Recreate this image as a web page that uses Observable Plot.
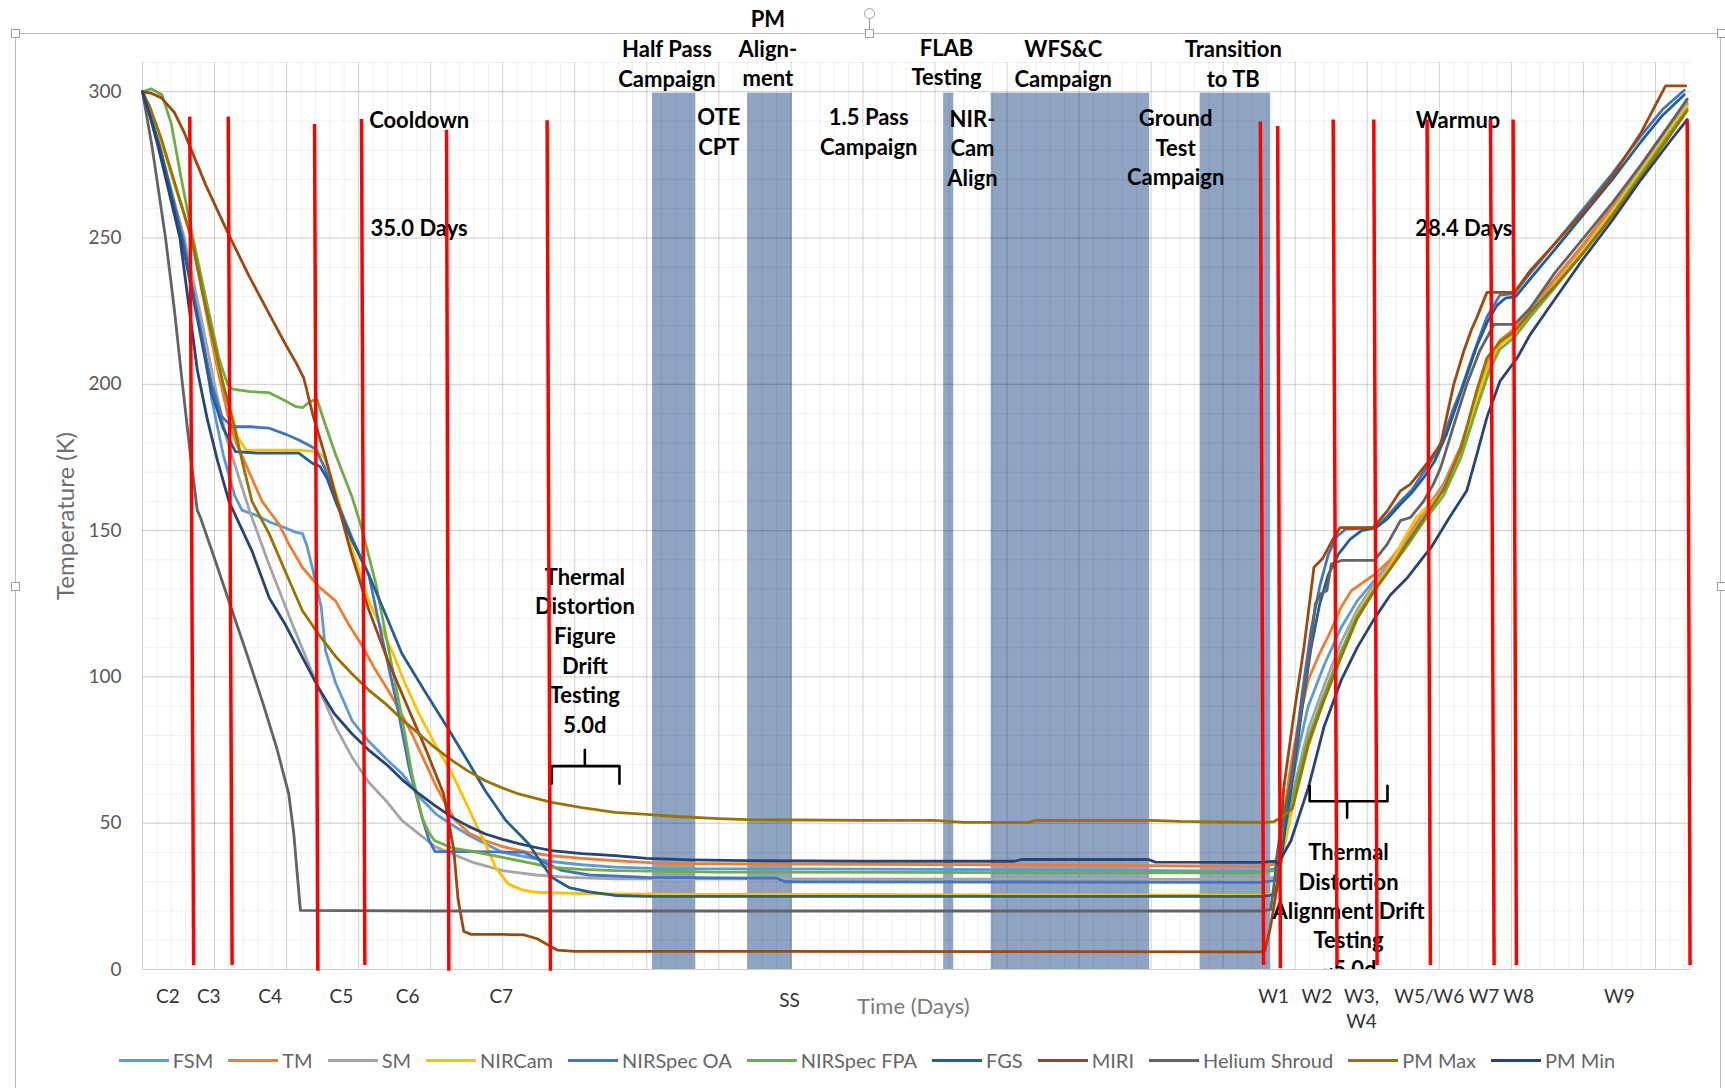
<!DOCTYPE html>
<html>
<head>
<meta charset="utf-8">
<script src="https://cdn.jsdelivr.net/npm/d3@7"></script>
<script src="https://cdn.jsdelivr.net/npm/@observablehq/plot@0.6"></script>
<style>
  html, body { margin: 0; padding: 0; background: #fff; }
  #wrap { position: relative; width: 1725px; height: 1088px; overflow: hidden; font-family: Lato, "Open Sans", sans-serif; }
  #chart { position: absolute; left: 0; top: 0; }
  #frame { position: absolute; left: 15px; top: 33px; width: 1706px; height: 1100px; border: 1px solid #bcbcbc; box-sizing: border-box; }
  .handle { position: absolute; width: 7px; height: 7px; margin: -4px 0 0 -4px; border: 1px solid #a0a0a0; background: #fff; }
  #rot { position: absolute; left: 864px; top: 8px; width: 9px; height: 9px; border: 1px solid #a0a0a0; border-radius: 50%; background: #fff; }
  #rotstem { position: absolute; left: 869px; top: 18px; width: 1px; height: 14px; background: #a0a0a0; }
  #legend { position: absolute; left: 0; top: 1048px; width: 1725px; display: flex; justify-content: center; align-items: center; padding-left: 24px; box-sizing: border-box; font-size: 20px; color: #666; }
  .item { display: flex; align-items: center; margin-right: 15px; white-space: nowrap; }
  .sw { display: inline-block; width: 50px; height: 3px; margin-right: 4px; }
</style>
</head>
<body>
<div id="wrap">
  <div id="chart"></div>
  <div id="frame"></div>
  <div id="rotstem"></div><div id="rot"></div>
  <div class="handle" style="left:15px;top:33px"></div>
  <div class="handle" style="left:869px;top:33px"></div>
  <div class="handle" style="left:1721px;top:33px"></div>
  <div class="handle" style="left:15px;top:586px"></div>
  <div class="handle" style="left:1721px;top:586px"></div>
  <div id="legend"></div>
</div>
<script>
// ---------- Series (day, temperature K) ----------
const seriesNames = ["FSM","TM","SM","NIRCam","NIRSpec OA","NIRSpec FPA","FGS","MIRI","Helium Shroud","PM Max","PM Min"];
const seriesColors = ["#5B9BD5","#ED7D31","#A5A5A5","#FFC000","#4472C4","#70AD47","#255E91","#9E480E","#636363","#997300","#264478"];

const FSM = [[0,300],[0.5,293],[1.2,281],[2.8,250],[4,222],[4.8,195],[5.6,176],[6.4,162],[6.9,157],[8,155],[8.8,153],[9.9,151],[10.6,149.5],[11.1,149],[11.4,145],[11.8,137],[12.4,124],[12.7,109],[13.4,98],[14.55,85],[15.7,78],[16.9,72],[18,67],[19.4,58],[20.4,53],[21.3,50],[22.6,46],[25,40],[28.2,37],[30.5,35.8],[32.8,35],[36,34.5],[50,34.3],[65,34],[77.6,33.5],[78.6,34.5],[79,42],[79.7,62],[80.3,77],[80.9,90],[82,104],[83.2,117],[84.3,126],[85.5,133],[86.6,139],[87.8,148],[88.9,156],[90.3,165],[91.5,178],[92.6,195],[93.5,208],[94.2,214],[95.2,218],[96.3,225],[98,235],[100,247],[102,260],[104,274],[106,288],[107.2,296]];
const TM = [[0,300],[0.5,294],[1.3,283],[3.4,250],[4.2,230],[5,210],[5.9,190],[6.5,180],[7.4,170],[8.3,160],[9.5,152],[10.2,145],[11.1,137.4],[12.2,131],[13.4,126],[14.3,118],[15.2,111],[16.1,103],[17.1,95],[17.9,88],[18.7,80.5],[19.5,72],[20.3,63.4],[21,57],[21.7,51],[22.7,46.5],[23.8,44],[25,42],[26.5,40.3],[28.2,39],[30.5,38],[32.8,37.2],[36,36.3],[45,36],[60,35.8],[70,35.5],[77.6,35.2],[78.6,36],[79,46],[79.7,70],[80.3,86],[80.9,99],[81.6,107],[82.3,114],[83.2,124],[83.9,129.5],[85.5,135],[86.6,140],[87.8,148],[88.9,156],[90.3,166],[91.5,179],[92.6,196],[93.5,209],[94.2,215],[95.2,219],[96.3,226],[98,236],[100,248],[102,261],[104,275],[106,289],[107.2,297]];
const SM = [[0,300],[0.5,293],[1.2,281],[2.9,250],[4.1,222],[5,200],[5.8,182],[6.7,168],[7.5,155.7],[8.77,138.6],[10.4,118],[12.2,96.4],[13.4,83],[14.55,72.5],[15.7,64],[16.9,57.7],[18,51],[19.2,46.3],[20.3,42],[21.5,39.5],[23,36.5],[25,33.8],[27.3,32.3],[29.6,31.5],[32.8,31],[45,31],[77.6,30.8],[78.6,31.5],[79,40],[79.7,58],[80.9,82],[82,97],[83.2,112],[84.3,123],[85.5,132],[86.6,139],[87.8,147],[88.9,155],[90.3,165],[91.5,177.5],[92.6,194],[93.5,207.5],[94.2,213.5],[95.2,217.5],[96.3,224.5],[98,234.5],[100,246.5],[102,259.5],[104,273.5],[106,287.5],[107.2,295.5]];
const NIRCam = [[0,300],[0.5,294],[1.3,283],[3.4,250],[4.3,229],[5.1,210],[5.6,200],[6.2,190],[6.6,182],[7.2,177.5],[9,177.5],[11,177.5],[12.2,177],[12.6,175],[13.1,168],[13.6,160],[14.6,143],[15.7,126],[17.3,109],[18.2,98],[19.2,87.3],[20.3,77],[21.5,66.8],[22.6,55.4],[23.2,49],[23.8,42.9],[24.5,34.9],[25.4,29.2],[26.3,27.3],[27.3,26.4],[30,26],[32.8,25.8],[38,25.7],[77.6,25.4],[78.6,26],[79,36],[79.7,53],[80.9,76],[82,93],[83.2,108],[84.3,121.6],[85.5,130.7],[86.6,138],[87.3,145],[88.4,154.5],[90.3,163.6],[91.5,177.3],[92.6,194.4],[93.5,208],[94.2,213.7],[95.2,217.1],[96.3,224],[98,234],[100,246],[102,259],[104,273],[106,287],[107.2,295]];
const NIRSpecOA = [[0,300],[0.5,293],[1.2,281],[2.8,250],[4,219],[4.8,200],[5.5,189],[6.2,185.5],[7.5,185.5],[8.8,185],[9.9,183],[10.85,181],[12,178],[12.6,172],[13.5,160],[14.5,148],[15.7,135],[16.6,114],[17.6,92],[18.5,69],[19.4,52],[19.9,44],[20.3,40.3],[23,40.3],[26.5,40],[27.5,37.5],[29,34],[31,32.3],[35,31.5],[44,31.2],[44.6,30],[77.6,29.8],[78.7,30.5],[79,40],[79.4,55],[79.9,72],[80.5,95],[81.1,116],[81.7,131],[82.3,142],[82.9,148],[83.5,150.5],[85.6,151],[86.4,155],[87.3,160],[88.1,164],[88.9,170],[89.7,176],[90.3,182],[91,192],[91.5,198],[92.4,211],[93.3,223],[94.2,230.5],[95.2,231],[96.3,238],[98,248],[100,260],[102,272],[104,285],[105.5,294],[107,300.5]];
const NIRSpecFPA = [[0,300],[0.6,301],[1.35,299],[2.0,289],[2.7,270],[3.5,250],[4.5,227],[5.3,209],[5.9,200],[6.25,198.4],[7.5,197.5],[8.77,197.2],[9.9,194.4],[10.6,192.5],[11.1,192],[11.6,194],[12.1,195],[12.7,186],[13.4,176],[14.55,161.4],[15.2,151],[16.2,131.7],[17.1,109],[18,86.2],[18.7,66.8],[19.4,52],[19.9,46.5],[20.3,44],[21.5,41.5],[22.6,40.6],[25,38.3],[28.4,34.9],[30.5,34.2],[32.8,33.8],[40,33.3],[77.6,33],[78.6,34],[79,42],[79.7,57],[80.9,79],[82,94],[83.2,109],[84.3,121],[85.5,130],[86.6,137],[87.8,145],[88.9,153],[90.3,162],[91.5,175],[92.6,192],[93.5,205],[94.2,212],[95.2,216],[96.3,223],[98,233],[100,245],[102,258],[104,272],[106,286],[107.2,294]];
const FGS = [[0,300],[0.5,292],[1.2,281],[2.7,250],[3.9,220],[4.8,197],[5.6,185],[6.45,177],[8,176.5],[10.85,176.5],[11.8,173],[12.3,172],[12.8,168],[13.4,160],[14.5,147],[15.7,135],[16.9,121],[18,108],[19.6,95],[21.3,81.6],[22.6,71],[23.8,61],[25.2,51],[26.8,43],[27.6,37],[28.4,31.5],[29.6,28],[31,26.5],[32.8,25.3],[35,25],[77.6,25],[78.6,25.5],[78.9,33],[79.3,48],[79.9,68],[80.5,90],[81.1,110],[81.7,125],[82.3,135],[83,142],[83.8,147],[84.6,150],[85.6,151],[86.4,154],[87.3,159],[88.1,163],[88.9,168],[89.7,174],[90.5,183],[91.2,193],[91.9,203],[92.6,213],[93.3,221],[94,227],[94.6,229.5],[95.3,230],[96.3,236],[98,246],[100,258],[102,270],[104,283],[105.5,292],[107,299]];
const MIRI = [[0,300],[0.6,299.5],[1.3,298],[2.2,293],[2.9,286],[4.4,268],[6,251],[7.4,237],[8.8,224],[10,213],[10.7,207],[11.2,202],[11.8,190],[12.7,175],[13.4,162],[14.5,142],[15.7,123],[17,106],[18.2,92],[19.6,76],[20.9,60],[21.6,41],[21.9,24],[22.3,13],[22.8,12],[25,12],[26.5,11.8],[27.4,10.5],[28.1,8.5],[28.8,6.6],[30,6.2],[40,6.2],[77.6,6],[77.9,6.5],[78.3,15],[78.8,30],[79.2,62],[79.9,87],[80.6,110],[81.1,129.5],[81.3,137.5],[81.9,140.5],[82.5,146],[83.1,151],[85.4,151],[86.4,156.8],[87.3,163.6],[88,165.9],[89.1,172.7],[90.1,179.6],[90.5,188.7],[91,200],[91.7,211.4],[92.2,218.3],[92.6,222.8],[93.3,231.4],[95.2,231.4],[96.3,238.8],[98,248],[100,259],[102,271],[104,286],[105.7,302],[107.1,302]];
const HeliumShroud = [[0,300],[0.67,281],[1.6,250],[2.2,226],[2.75,201],[3.3,177],[3.8,157],[4.02,154.5],[5.1,139],[6.22,122.6],[7.3,107],[8.3,91.9],[9.3,76],[10.15,60],[10.5,46.4],[10.75,32],[10.96,20.2],[20,20],[77.6,20],[78.3,20.5],[78.5,28],[78.9,45],[79.7,64.6],[80.3,85],[80.9,104.5],[81.4,125],[81.8,128.5],[82.2,129.5],[82.5,138.6],[83.2,139.8],[85.5,139.8],[86.4,145.5],[87.3,153.4],[88,154.5],[88.9,160],[89.6,166],[90.1,171.6],[91,186],[91.9,200],[92.8,211.4],[93.8,220.5],[95.2,220.5],[96.3,226],[98,238],[100,250],[102,262],[104,275],[106,289],[107.2,297.5]];
const PMMax = [[0,300],[0.5,295],[1.3,284],[3.4,250],[4.4,226],[5.6,200],[6.4,185],[7,172],[7.6,160],[8.8,148.8],[10,135],[11.1,122.6],[12.2,114.7],[13.4,107],[14.55,101],[15.7,95.5],[16.9,90.7],[18,85.5],[19.2,80.5],[20.3,75.8],[21.5,71.4],[22.6,67.8],[23.8,64.5],[25,62],[26.1,60],[27.3,58.5],[28.4,57.1],[30.5,55.3],[32.8,53.7],[35,53],[37,52.3],[40,51.6],[42,51.2],[50,51],[55,51],[57,50.3],[61.5,50.3],[62,51],[70,51],[72,50.6],[77.6,50.3],[78.5,50.5],[79.2,52.5],[79.8,55],[80.3,65],[80.9,77],[82,92],[83.2,107],[84.3,120],[85.5,129.5],[86.6,137],[87.8,146],[88.9,154],[90.3,164],[91.5,178],[92.6,198],[93.3,209],[94.2,214.5],[95.2,218],[96.3,224.5],[98,233.5],[100,245],[102,257.5],[104,271],[106,285],[107.2,293.5]];
const PMMin = [[0,300],[0.5,292],[1.1,281],[2.6,250],[3.8,205],[4.5,188],[5.2,174],[6,160],[7.6,143],[8.8,127],[9.9,118],[11.1,106.7],[12.2,96.4],[13.3,87.5],[14.55,80.5],[15.7,75],[16.9,70.2],[18,65],[19.2,60],[20.3,56],[21.5,52],[22.6,49],[23.8,46.3],[25,44.5],[26.1,43],[27.3,41.7],[28.4,40.6],[30.5,39.6],[32.8,38.9],[35,38],[38,37.5],[42,37.2],[50,37],[60.5,37],[61,37.6],[69.8,37.6],[70.3,36.7],[77.6,36.6],[78.6,37],[78.8,36],[79.7,44],[80.9,62],[82,83],[83.2,99],[84.3,110],[85.5,120],[86.6,128],[87.8,134],[88.9,141],[89.4,144],[90.7,154.5],[91.9,163.6],[92.6,176],[93.3,188.7],[94.2,201],[95.4,209],[96.3,217],[98,229],[100,243],[102,256],[104,270],[106,283],[107.2,290.5]];

const seriesPoints = [FSM, TM, SM, NIRCam, NIRSpecOA, NIRSpecFPA, FGS, MIRI, HeliumShroud, PMMax, PMMin];

// ---------- Test periods (shaded), in days ----------
const bandStart = [35.4, 42.0, 55.6, 58.9, 73.4];
const bandEnd   = [38.4, 45.1, 56.3, 69.9, 78.3];
const bandTop   = [299.5, 299.5, 299.5, 299.5, 299.5];

// ---------- Phase marker lines (red) ----------
const markerTopDay    = [3.28, 5.95, 11.94, 15.2, 21.1, 28.08, 77.58, 78.78, 82.63, 85.45, 89.15, 93.55, 95.12, 107.2];
const markerBottomDay = [3.55, 6.22, 12.17, 15.43, 21.26, 28.31, 77.8, 78.97, 82.9, 85.68, 89.38, 93.8, 95.35, 107.4];
const markerTopK      = [291.5, 291.5, 289, 290.7, 287, 290.3, 289.8, 288.3, 290.5, 290.5, 290.5, 290.5, 290.5, 290.5];
const markerBottomK   = [1.5, 1.5, -0.4, 1.5, -0.4, -0.4, 1.5, 0.4, 1.5, 1.5, 1.5, 1.5, 1.5, 1.5];

// ---------- Axis ticks / phase labels ----------
const yTicks = [0, 50, 100, 150, 200, 250, 300];
const phaseLabels = ["C2","C3","C4","C5","C6","C7","W1","W2","W3,\nW4","W5/W6","W7","W8","W9"];
const phaseLabelDays = [1.76, 4.6, 8.86, 13.8, 18.4, 24.9, 78.5, 81.5, 84.6, 89.3, 93.1, 95.5, 102.5];
const ssLabel = ["SS"];
const ssDay = [44.9];
const xTitle = ["Time (Days)"];
const xTitleDay = [53.5];
const yTitle = ["Temperature (K)"];

// ---------- Annotations (centre in day / K) ----------
const noteText = ["Cooldown","35.0 Days","Half Pass\nCampaign","PM\nAlign-\nment","OTE\nCPT","1.5 Pass\nCampaign","FLAB\nTesting","NIR-\nCam\nAlign","WFS&C\nCampaign","Ground\nTest\nCampaign","Transition\nto TB","Warmup","28.4 Days","Thermal\nDistortion\nFigure\nDrift\nTesting\n5.0d"];
const noteDay  = [19.2, 19.2, 36.4, 43.4, 40.0, 50.4, 55.8, 57.6, 63.9, 71.7, 75.7, 91.3, 91.7, 30.7];
const noteK    = [291, 254, 310, 315.2, 286.8, 286.7, 310.5, 281.2, 310, 281.4, 310, 291, 254, 109.4];
const warmNote = ["Thermal\nDistortion\nAlignment Drift\nTesting\n~5.0d"];
const warmNoteDay = [83.7];
const warmNoteK = [20.5];

// Curly-brace outlines for the two drift tests (day, K)
const braceCooldown = [[28.4,63.5],[28.4,69.5],[30.7,69.5],[30.7,75],[30.7,69.5],[33.1,69.5],[33.1,63.5]];
const braceWarmup   = [[81.0,62.8],[81.0,57.5],[83.6,57.5],[83.6,51.9],[83.6,57.5],[86.4,57.5],[86.4,62.8]];

// ---------- Build tables ----------
const rows = seriesPoints.flatMap((pts, i) => pts.map(([day, temp]) => ({series: seriesNames[i], day, temp})));
const bands = bandStart.map((s, i) => ({x1: s, x2: bandEnd[i], top: bandTop[i]}));
const markers = markerTopDay.map((d, i) => ({x1: d, x2: markerBottomDay[i], y1: markerTopK[i], y2: markerBottomK[i]}));
const notes = noteText.map((t, i) => ({text: t, day: noteDay[i], k: noteK[i]}));
const warm = warmNote.map((t, i) => ({text: t, day: warmNoteDay[i], k: warmNoteK[i]}));
const phase = phaseLabels.map((t, i) => ({text: t, day: phaseLabelDays[i]}));
const ss = ssLabel.map((t, i) => ({text: t, day: ssDay[i]}));
const xt = xTitle.map((t, i) => ({text: t, day: xTitleDay[i]}));
const braces = [
  ...braceCooldown.map(([day, k]) => ({id: "a", day, k})),
  ...braceWarmup.map(([day, k]) => ({id: "b", day, k}))
];

const chart = Plot.plot({
  width: 1725,
  height: 1040,
  marginLeft: 142,
  marginRight: 34,
  marginTop: 62,
  marginBottom: 71,
  style: {fontFamily: "Lato, 'Open Sans', sans-serif", background: "transparent", overflow: "visible"},
  x: {domain: [0, 107.5], axis: null},
  y: {domain: [0, 310], axis: null},
  color: {domain: seriesNames, range: seriesColors},
  marks: [
    Plot.rect(bands, {x1: "x1", x2: "x2", y1: 0, y2: "top", fill: "#8FA3C2"}),
    Plot.gridX(d3.range(0, 108, 1), {stroke: "#000", strokeOpacity: 0.06, strokeWidth: 1}),
    Plot.gridX(d3.range(0, 108, 5), {stroke: "#000", strokeOpacity: 0.13, strokeWidth: 1}),
    Plot.gridY(d3.range(0, 311, 10), {stroke: "#000", strokeOpacity: 0.06, strokeWidth: 1}),
    Plot.gridY(d3.range(0, 301, 50), {stroke: "#000", strokeOpacity: 0.15, strokeWidth: 1}),
    Plot.axisY({ticks: yTicks, tickSize: 0, tickPadding: 21, fontSize: 19, color: "#595959", label: null}),
    Plot.text(yTitle, {frameAnchor: "left", textAnchor: "middle", rotate: -90, dx: -76, fontSize: 24, fill: "#6e6e6e"}),
    Plot.line(rows, {x: "day", y: "temp", z: "series", stroke: "series", strokeWidth: 2.8, strokeLinejoin: "round"}),
    Plot.line(braces, {x: "day", y: "k", z: "id", stroke: "#000", strokeWidth: 2.6}),
    Plot.text(notes, {x: "day", y: "k", text: "text", fontSize: 22, fontWeight: "bold", fill: "#000", lineHeight: 1.35, lineAnchor: "middle"}),
    Plot.text(warm, {x: "day", y: "k", text: "text", fontSize: 22, fontWeight: "bold", fill: "#000", lineHeight: 1.33, lineAnchor: "middle", clip: true}),
    Plot.text(phase, {x: "day", text: "text", frameAnchor: "bottom", dy: 16, lineAnchor: "top", lineHeight: 1.3, fontSize: 19, fill: "#333"}),
    Plot.text(ss, {x: "day", text: "text", frameAnchor: "bottom", dy: 24, lineAnchor: "top", fontSize: 19, fill: "#333"}),
    Plot.text(xt, {x: "day", text: "text", frameAnchor: "bottom", dy: 37, lineAnchor: "middle", fontSize: 22, fill: "#7a7a7a"}),
    Plot.link(markers, {x1: "x1", y1: "y1", x2: "x2", y2: "y2", stroke: "#FF0000", strokeWidth: 3.5})
  ]
});
document.getElementById("chart").appendChild(chart);

// ---------- Legend ----------
const legend = document.getElementById("legend");
seriesNames.forEach((name, i) => {
  const item = document.createElement("div");
  item.className = "item";
  const sw = document.createElement("span");
  sw.className = "sw";
  sw.style.background = seriesColors[i];
  const lab = document.createElement("span");
  lab.textContent = name;
  item.appendChild(sw);
  item.appendChild(lab);
  legend.appendChild(item);
});
</script>
</body>
</html>
